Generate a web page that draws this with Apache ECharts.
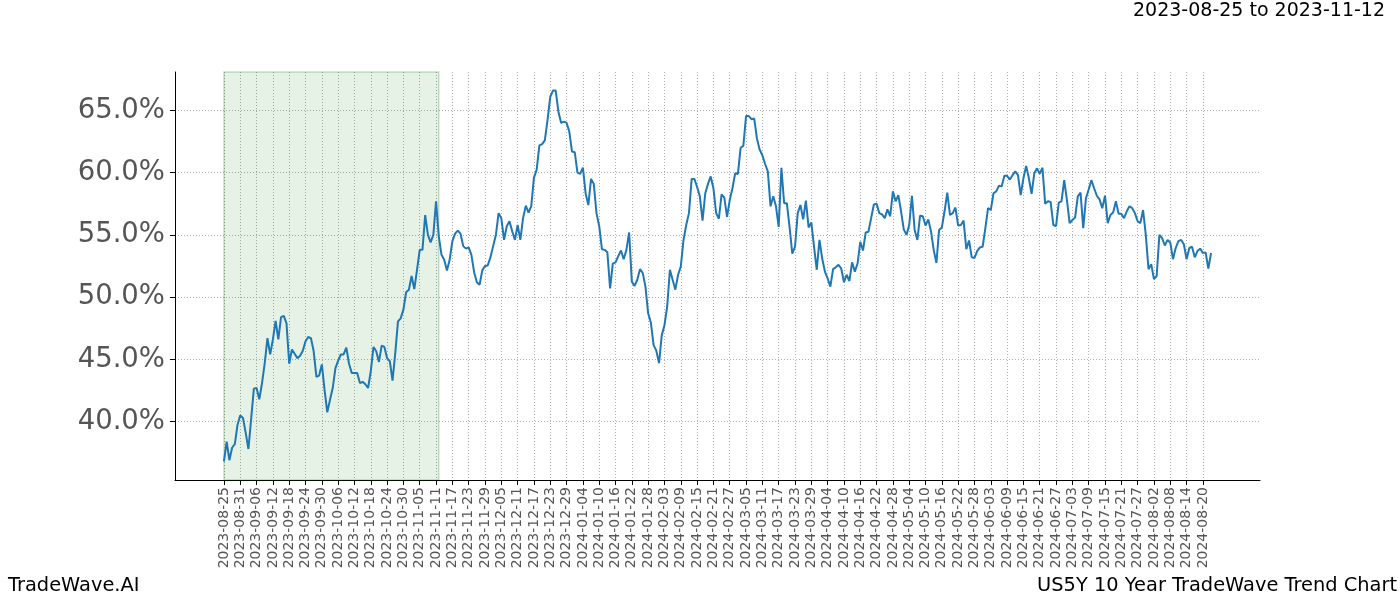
<!DOCTYPE html>
<html>
<head>
<meta charset="utf-8">
<script src="https://cdn.jsdelivr.net/npm/echarts@6/dist/echarts.min.js"></script>
<style>html,body{margin:0;padding:0;background:#fff}#c{width:1400px;height:600px}</style>
</head>
<body>
<div id="c"></div>
<script>
// Tick labels every 6 data points (index 0, 6, 12, ...)
const tickLabels = ["2023-08-25","2023-08-31","2023-09-06","2023-09-12","2023-09-18","2023-09-24","2023-09-30","2023-10-06","2023-10-12","2023-10-18","2023-10-24","2023-10-30","2023-11-05","2023-11-11","2023-11-17","2023-11-23","2023-11-29","2023-12-05","2023-12-11","2023-12-17","2023-12-23","2023-12-29","2024-01-04","2024-01-10","2024-01-16","2024-01-22","2024-01-28","2024-02-03","2024-02-09","2024-02-15","2024-02-21","2024-02-27","2024-03-05","2024-03-11","2024-03-17","2024-03-23","2024-03-29","2024-04-04","2024-04-10","2024-04-16","2024-04-22","2024-04-28","2024-05-04","2024-05-10","2024-05-16","2024-05-22","2024-05-28","2024-06-03","2024-06-09","2024-06-15","2024-06-21","2024-06-27","2024-07-03","2024-07-09","2024-07-15","2024-07-21","2024-07-27","2024-08-02","2024-08-08","2024-08-14","2024-08-20"];

// Y-axis tick values (%)
const yTicks = [40, 45, 50, 55, 60, 65];

// Trend values (%), one per data point
const valuesSep = [36.8,38.4,36.9,37.9,38.2,39.75,40.5,40.3,39.1,37.8,40.2,42.65,42.7,41.8,43.1,44.7,46.7,45.4,46.6,48.1,46.6,48.4,48.5,47.9,44.65,45.8,45.45,45.1,45.3,45.7,46.45,46.8,46.7,45.65,43.6,43.7,44.6,42.55,40.75,41.75,42.7,44.3,44.9,45.4,45.4,45.95,44.65,43.9,43.9,43.9,43.1,43.2,43.0,42.7,44.05,46.0,45.65,44.8,46.1,46.0,45.1];
const valuesNov = [44.85,43.3,45.5,48.05,48.3,49.0,50.4,50.6,51.7,50.65,52.2,53.8,53.8,56.6,55.0,54.4,55.0,57.7];
const valuesDec = [54.9,53.4,53.0,52.15,53.0,54.5,55.1,55.35,55.1,54.1,53.9,54.0,53.4,52.0,51.2,51.0,52.15,52.5,52.55,53.2,54.1,55.0,56.75,56.35,54.6,55.7,56.1,55.3,54.6,55.8,54.6,56.35,57.35,56.8,57.3,59.6,60.25,62.2,62.3,62.6,64.25,66.1,66.6];
const valuesJan = [66.6,64.9,64.0,64.1,64.0,63.3,61.7,61.65,60.0,59.9,60.4,58.35,57.4,59.5,59.1,56.75,55.7,53.85,53.8,53.6,50.7,52.7,52.8,53.3,53.75,53.05,53.8,55.2,51.25,50.9,51.4,52.25,51.95,50.85,48.7,47.95,46.15,45.7,44.7,46.95,47.75,49.25,52.2,51.4,50.6,51.8,52.45,54.6,55.8,56.75,59.5,59.5,58.85,58.1,56.15,58.35,59.1,59.7];
const valuesMar = [58.75,56.75,56.3,58.25,58.0,56.45,57.8,58.75,59.95,59.9,62.0,62.15,64.55,64.55,64.3,64.35,62.75,61.85,61.4,60.7,60.1,57.3,58.1,57.3,55.65,60.4,57.55,57.55,55.65,53.5,54.05,56.75,57.4,56.25,57.75,55.6,56.0,54.05,52.2,54.6,53.1,52.05,51.5,50.85,52.25,52.4,52.6,52.3,51.2,51.8,51.3,52.8,52.05,52.7,54.45,53.75,55.2,55.25,56.35,57.45,57.5,56.75];
const valuesMay = [56.65,56.35,57.05,56.5,58.5,57.7,58.2,56.9,55.45,55.0,55.8,58.15,55.4,54.6,56.55,56.5,55.75,56.25,55.3,53.8,52.75,55.4,55.6,56.9,58.4,56.6,56.75,57.2,55.75,55.8,56.15,53.85,54.55,53.2,53.15,53.7,54.0,54.05,55.55,57.15,57.0,58.35,58.5,58.95,58.9,59.75,59.75,59.45,59.8,60.1,59.8,58.2,59.55,60.55,59.55,58.3,59.95,60.35,59.9,60.4];
const valuesJul = [57.5,57.7,57.65,55.8,55.7,57.6,57.7,59.4,57.8,55.95,56.2,56.4,58.1,58.4,55.55,57.95,58.65,59.4,58.75,58.15,57.85,57.15,58.15,55.95,56.6,56.8,57.7,56.7,56.7,56.35,56.9,57.3,57.15,56.75,56.1,55.95,57.0,55.0,52.25,52.65,51.45,51.7,55.0,54.75,54.15,54.6,54.4,53.05,53.95,54.5,54.6,54.25,53.05,53.95,54.05,53.2,53.7,53.9,53.55,53.6,52.3,53.55];

const highlightStart = 0;   // 2023-08-25
const highlightEnd = 79;    // 2023-11-12
const titleText = "2023-08-25 to 2023-11-12";

const values = [].concat(valuesSep, valuesNov, valuesDec, valuesJan, valuesMar, valuesMay, valuesJul);
const PAD = 18;
const cats = [];
const seriesData = [];
for (let i = -PAD; i < values.length + PAD; i++) {
  cats.push(String(i));
  seriesData.push(i >= 0 && i < values.length ? values[i] : '-');
}
const isTick = (idx) => {
  const i = idx - PAD;
  return i >= 0 && i % 6 === 0 && i / 6 < tickLabels.length;
};

const chart = echarts.init(document.getElementById('c'), null, {renderer: 'canvas'});
const FONT = 'DejaVu Sans';
chart.setOption({
  animation: false,
  backgroundColor: '#ffffff',
  textStyle: {fontFamily: FONT},
  grid: {left: 175, top: 72, width: 1085, height: 408, containLabel: false},
  graphic: [
    {type: 'text', right: 15, top: 2, style: {text: titleText, font: '19px "DejaVu Sans"', fill: '#000'}},
    {type: 'text', left: 8, top: 576, style: {text: 'TradeWave.AI', font: '19.4px "DejaVu Sans"', fill: '#000'}},
    {type: 'text', right: 3, top: 576, style: {text: 'US5Y 10 Year TradeWave Trend Chart', font: '19.4px "DejaVu Sans"', fill: '#000'}}
  ],
  xAxis: {
    type: 'category',
    data: cats,
    boundaryGap: false,
    axisLine: {lineStyle: {color: '#000', width: 1}},
    axisTick: {show: true, interval: (idx) => isTick(idx), length: 5, lineStyle: {color: '#000'}},
    axisLabel: {
      interval: (idx) => isTick(idx),
      rotate: 90,
      color: '#555',
      fontSize: 14,
      fontFamily: FONT,
      margin: 7,
      formatter: (val) => { const i = parseInt(val, 10); return (i >= 0 && i % 6 === 0 && i / 6 < tickLabels.length) ? tickLabels[i / 6] : ''; }
    },
    splitLine: {show: true, interval: (idx) => isTick(idx), lineStyle: {color: '#999', type: [1, 2], width: 0.8}}
  },
  yAxis: {
    type: 'value',
    min: 35.31,
    max: 68.09,
    splitNumber: 5,
    axisLine: {show: true, lineStyle: {color: '#000', width: 1}},
    axisTick: {show: true, length: 5, lineStyle: {color: '#000'}, customValues: yTicks},
    axisLabel: {color: '#555', fontSize: 27.5, fontFamily: FONT, margin: 10,
      customValues: yTicks,
      formatter: (v) => Number(v).toFixed(1) + '%'},
    splitLine: {show: true, lineStyle: {color: '#999', type: [1, 2], width: 0.8}}
  },
  series: [{
    type: 'line',
    data: seriesData,
    showSymbol: false,
    symbol: 'none',
    connectNulls: false,
    lineStyle: {color: '#1f77b4', width: 2},
    markArea: {
      silent: true,
      itemStyle: {color: 'rgba(0,128,0,0.1)', borderColor: 'rgba(0,90,0,0.2)', borderWidth: 1.5},
      data: [[{xAxis: String(highlightStart)}, {xAxis: String(highlightEnd)}]]
    }
  }]
});
</script>
</body>
</html>
